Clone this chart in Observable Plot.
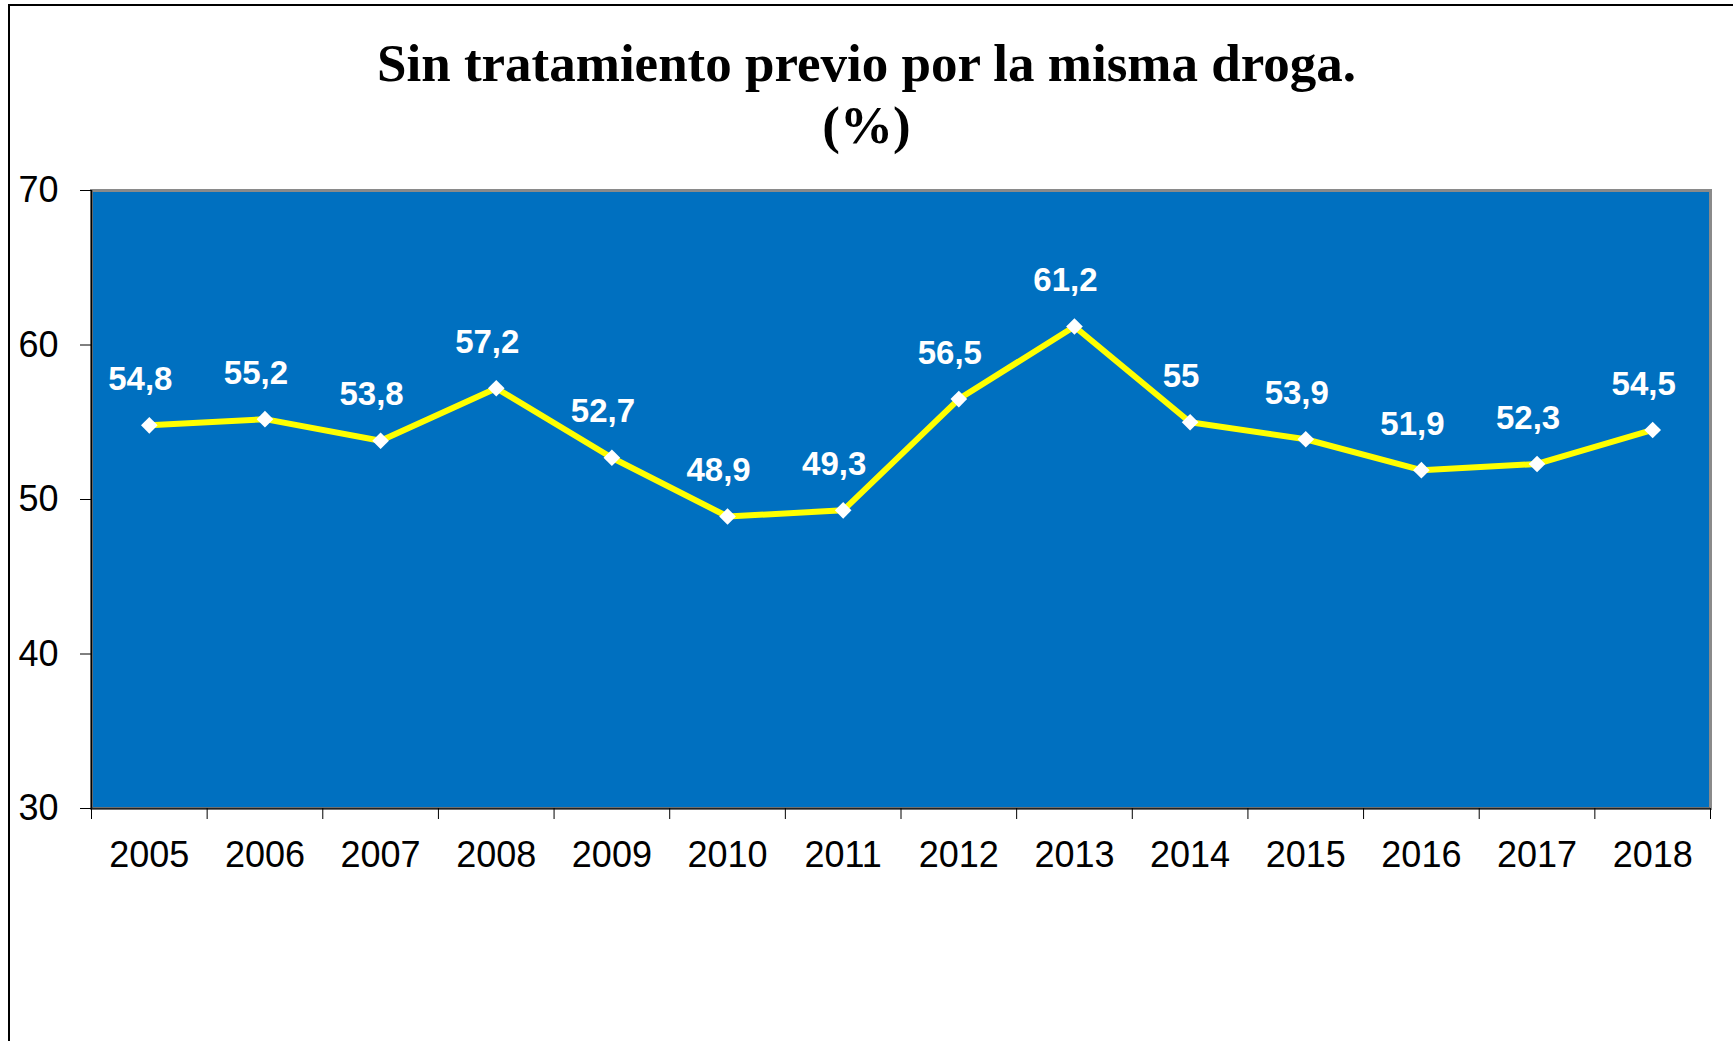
<!DOCTYPE html>
<html>
<head>
<meta charset="utf-8">
<script src="https://cdn.jsdelivr.net/npm/d3@7"></script>
<script src="https://cdn.jsdelivr.net/npm/@observablehq/plot@0.6"></script>
<style>
  html, body { margin: 0; padding: 0; background: #fff; width: 1733px; height: 1041px; overflow: hidden; }
  #wrap { position: relative; width: 1733px; height: 1041px; }
  #frame { position: absolute; left: 8px; top: 4px; width: 1800px; height: 1100px; border-left: 2px solid #000; border-top: 2px solid #000; box-sizing: border-box; }
  #title { position: absolute; left: 0; width: 1733px; top: 32px; text-align: center; font-family: "Liberation Serif", "Times New Roman", serif; font-weight: bold; font-size: 53px; line-height: 62px; color: #000; }
  #chart { position: absolute; left: 0; top: 0; }
</style>
</head>
<body>
<div id="wrap">
  <div id="frame"></div>
  <div id="chart"></div>
  <div id="title">Sin tratamiento previo por la misma droga.<br>(%)</div>
</div>
<script>
const years = [2005, 2006, 2007, 2008, 2009, 2010, 2011, 2012, 2013, 2014, 2015, 2016, 2017, 2018];
const values = [54.8, 55.2, 53.8, 57.2, 52.7, 48.9, 49.3, 56.5, 61.2, 55, 53.9, 51.9, 52.3, 54.5];
const labels = ["54,8", "55,2", "53,8", "57,2", "52,7", "48,9", "49,3", "56,5", "61,2", "55", "53,9", "51,9", "52,3", "54,5"];
const yTicks = [30, 40, 50, 60, 70];

const data = years.map((y, i) => ({year: y, value: values[i], label: labels[i]}));
const boundaries = [...years.map(y => y - 0.5), years[years.length - 1] + 0.5];

const chart = Plot.plot({
  width: 1733,
  height: 1041,
  marginLeft: 91,
  marginRight: 23,
  marginTop: 190,
  marginBottom: 233,
  style: {fontFamily: "Liberation Sans, Arial, sans-serif", background: "transparent", overflow: "visible"},
  x: {type: "linear", domain: [years[0] - 0.5, years[years.length - 1] + 0.5]},
  y: {domain: [30, 70]},
  marks: [
    Plot.frame({fill: "#0070C0", stroke: "#8a8a8a", strokeWidth: 3}),
    Plot.ruleX([years[0] - 0.5], {stroke: "#000", strokeWidth: 1.5}),
    Plot.ruleY([30], {stroke: "#222", strokeWidth: 1.5}),
    Plot.axisY({ticks: yTicks, tickSize: 11, tickPadding: 22, fontSize: 36, label: null, tickFormat: d => String(d), color: "#000"}),
    Plot.axisX({ticks: boundaries, tickSize: 11, tickFormat: () => "", label: null, color: "#000"}),
    Plot.axisX({ticks: years, tickSize: 0, tickPadding: 33, fontSize: 36, label: null, tickFormat: d => String(d), color: "#000"}),
    Plot.line(data, {x: "year", y: "value", stroke: "#FFFF00", strokeWidth: 6}),
    Plot.dot(data, {x: "year", y: "value", symbol: "diamond2", r: 7.5, fill: "#fff", stroke: "none"}),
    Plot.text(data, {x: "year", y: "value", text: "label", dy: -46, dx: -9, fill: "#fff", fontSize: 33, fontWeight: "bold", textAnchor: "middle", lineAnchor: "middle"})
  ]
});
document.getElementById("chart").appendChild(chart);
</script>
</body>
</html>
